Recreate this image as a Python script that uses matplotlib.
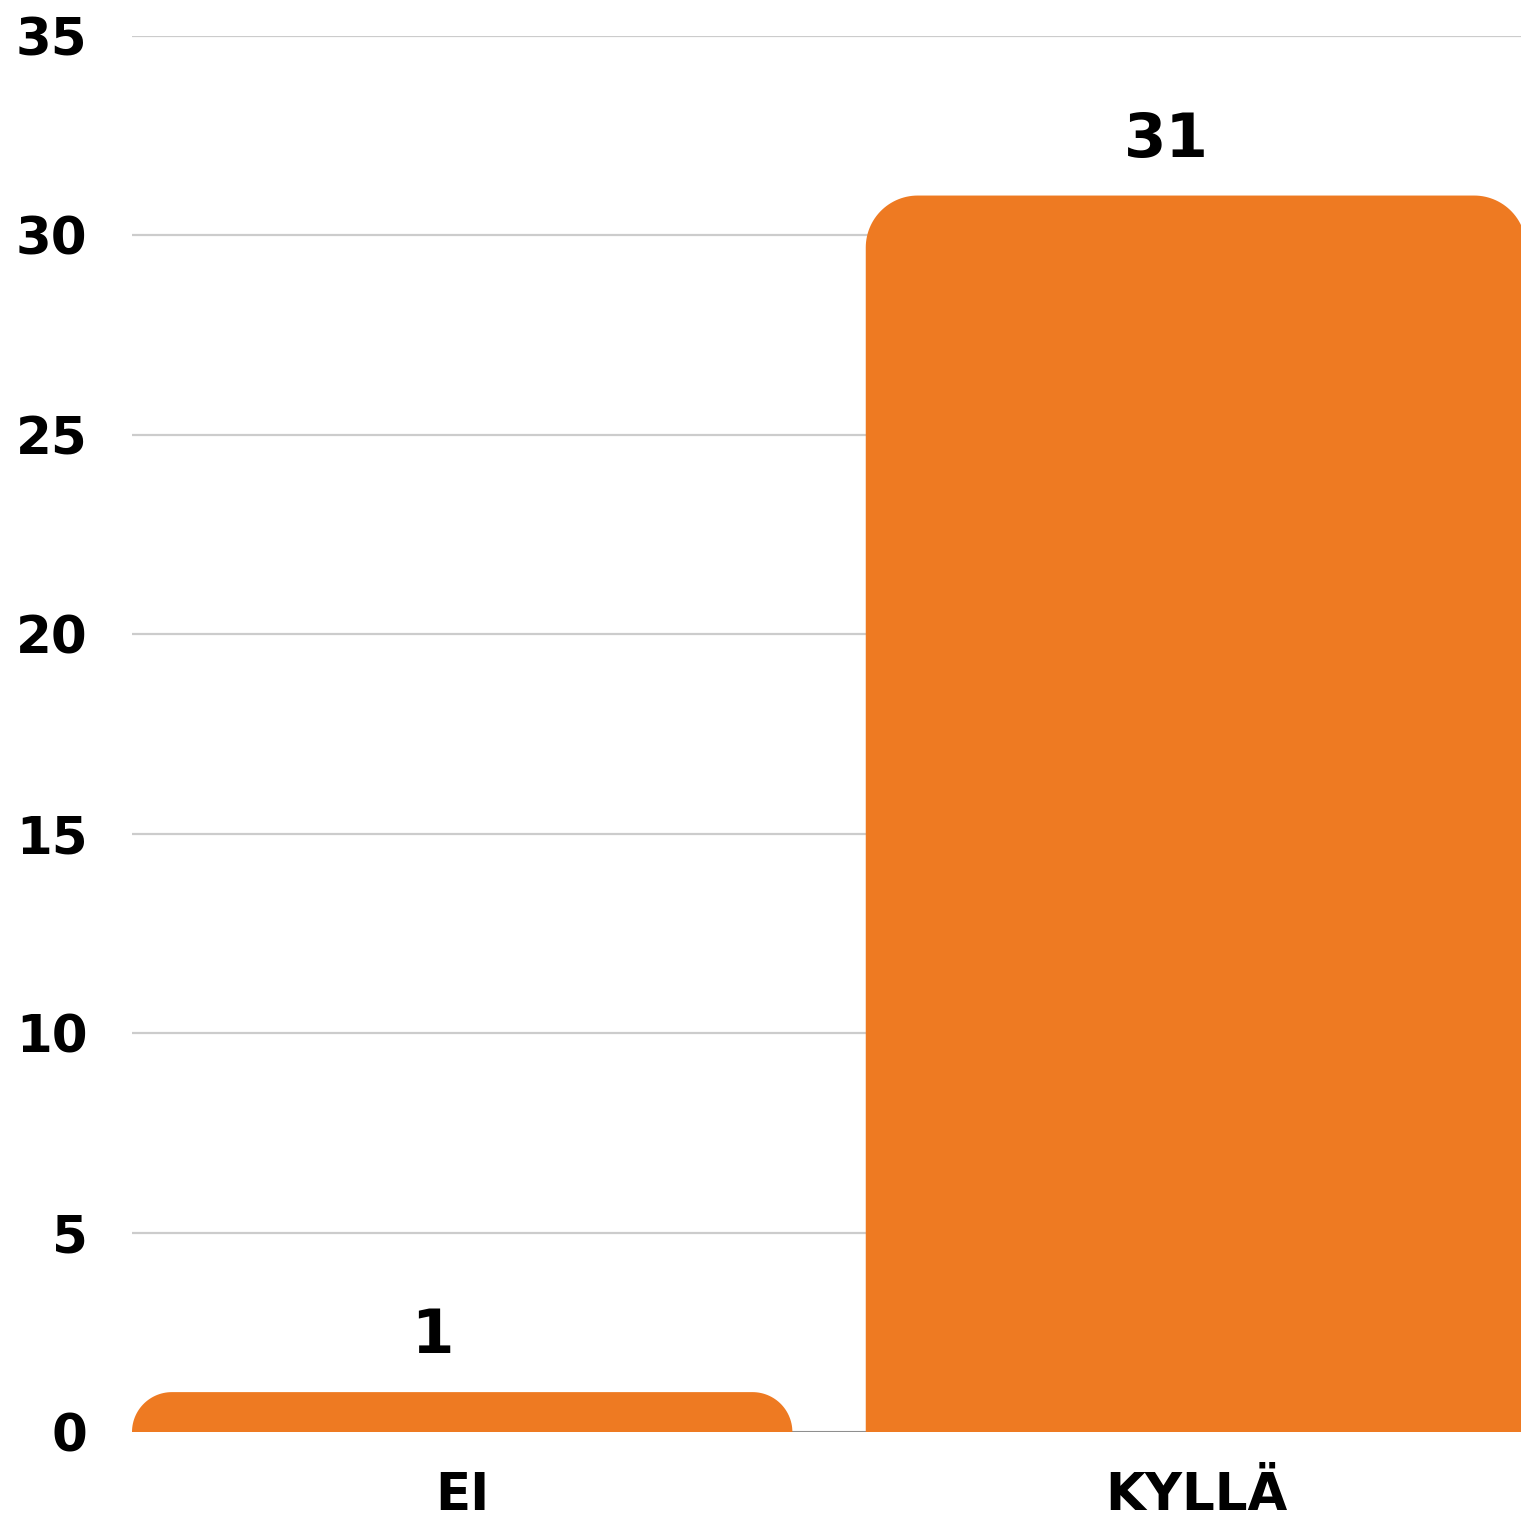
import numpy as np
import matplotlib.pyplot as plt
from matplotlib.patches import Polygon

categories = ['EI', 'KYLLÄ']
values = [1, 31]

bar_color = '#EE7A22'
bar_width = 0.90
radius_px = 52

fig = plt.figure(figsize=(15.21, 15.20), dpi=100)
ax = fig.add_axes([132 / 1521, 1 - 1432 / 1520, 1 - 132 / 1521, (1432 - 36) / 1520])
ax.set_xlim(-0.45, 1.443)
ax.set_ylim(0, 35)

# pixel -> data scale for the corner radius
px_x = (1.443 + 0.45) / 1389
px_y = 35 / 1396


def rounded_bar(ax, xc, h, w):
    x0, x1 = xc - w / 2, xc + w / 2
    r = min(radius_px, h / px_y)
    rx, ry = r * px_x, r * px_y
    t = np.linspace(0, np.pi / 2, 30)
    left = np.column_stack([x0 + rx - rx * np.cos(t), h - ry + ry * np.sin(t)])
    right = np.column_stack([x1 - rx + rx * np.sin(t), h - ry + ry * np.cos(t)])
    pts = np.vstack([[x0, -1], left, right, [x1, -1]])
    ax.add_patch(Polygon(pts, closed=True, facecolor=bar_color, edgecolor='none', zorder=3))


ax.set_yticks(np.arange(0, 36, 5))
ax.yaxis.grid(True, color='#cccccc', linewidth=1.6, zorder=0)
ax.set_axisbelow(True)
ax.axhline(0, color='#888888', linewidth=2, zorder=1)

for i, v in enumerate(values):
    rounded_bar(ax, i, v, bar_width)
    ax.text(i - 0.04, v + 0.65, str(v), ha='center', va='bottom',
            fontsize=44, fontweight='bold', color='black', zorder=4)

ax.set_xticks(range(len(categories)))
ax.set_xticklabels(categories)
for s in ax.spines.values():
    s.set_visible(False)
ax.tick_params(axis='both', length=0, labelsize=37)
ax.tick_params(axis='y', pad=32)
ax.tick_params(axis='x', pad=28)
for lbl in ax.get_xticklabels() + ax.get_yticklabels():
    lbl.set_fontweight('bold')

fig.savefig('out.png', dpi=100)
